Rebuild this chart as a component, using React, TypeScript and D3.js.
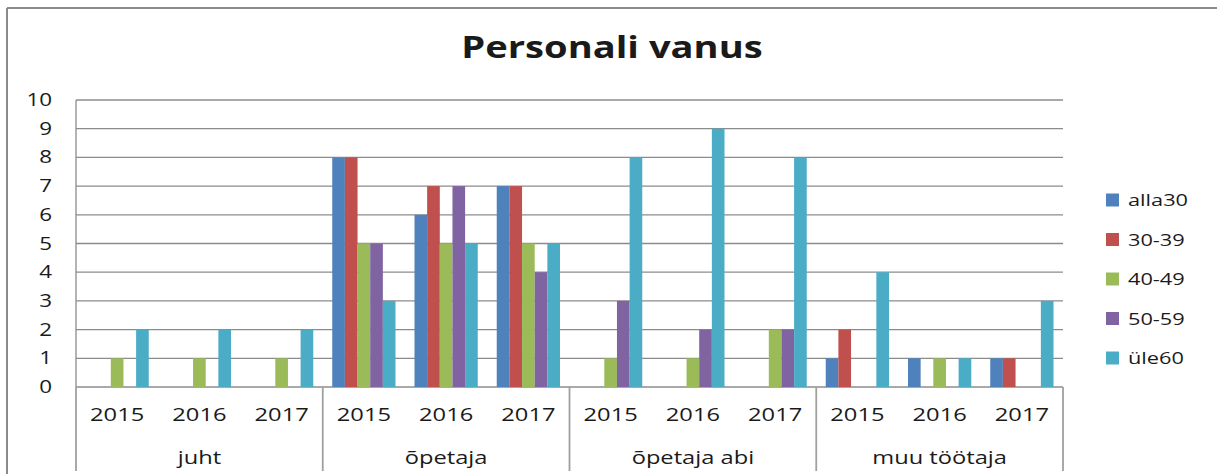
import React from "react";
import * as d3 from "d3";

// chart data
const groups = ["juht", "õpetaja", "õpetaja abi", "muu töötaja"];
const years = ["2015", "2016", "2017"];
const seriesNames = ["alla30", "30-39", "40-49", "50-59", "üle60"];
const alla30 = [0, 0, 0, 8, 6, 7, 0, 0, 0, 1, 1, 1];
const v30_39 = [0, 0, 0, 8, 7, 7, 0, 0, 0, 2, 0, 1];
const v40_49 = [1, 1, 1, 5, 5, 5, 1, 1, 2, 0, 1, 0];
const v50_59 = [0, 0, 0, 5, 7, 4, 3, 2, 2, 0, 0, 0];
const ule60 = [2, 2, 2, 3, 5, 5, 8, 9, 8, 4, 1, 3];
const yTicks = [0, 1, 2, 3, 4, 5, 6, 7, 8, 9, 10];
const colors = ["#4F81BD", "#C0504D", "#9BBB59", "#8064A2", "#4BACC6"];

const seriesValues = [alla30, v30_39, v40_49, v50_59, ule60];
const cats = groups.flatMap((g) => years.map((y) => g + "|" + y));

const W = 1217, H = 474;
const margin = { top: 100, left: 76, right: 1063, bottom: 387 };
const FONT = "'Open Sans', sans-serif";
const SX = 1.28; // text in the original is stretched horizontally

const Txt = ({ x, y, anchor = "middle", size = 18, weight = 400, sx = SX, children }: any) => (
  <text
    transform={`translate(${x},${y}) scale(${sx},1)`}
    textAnchor={anchor}
    fontFamily={FONT}
    fontSize={size}
    fontWeight={weight}
    fill="#1a1a1a"
  >
    {children}
  </text>
);

export default function App() {
  const x = d3.scaleBand().domain(cats).range([margin.left, margin.right]).padding(0);
  const xs = d3
    .scaleBand()
    .domain(seriesNames)
    .range([0, x.bandwidth()])
    .paddingInner(0)
    .paddingOuter(0.75);
  const y = d3.scaleLinear().domain([0, 10]).range([margin.bottom, margin.top]);
  const gx = d3.scaleBand().domain(groups).range([margin.left, margin.right]).padding(0);
  const legendY = d3.scaleLinear().domain([0, seriesNames.length - 1]).range([200, 358]);

  return (
    <svg width={W} height={H} style={{ position: "absolute", left: 0, top: 0, background: "#fff" }}>
      {/* chart border */}
      <line x1={7} x2={W} y1={8} y2={8} stroke="#8a8a8a" strokeWidth={2} />
      <line x1={7} x2={7} y1={8} y2={H} stroke="#8a8a8a" strokeWidth={2} />

      <Txt x={612} y={58} size={31} weight={700} sx={1.23}>Personali vanus</Txt>

      {/* gridlines + y labels */}
      {yTicks.map((t) => (
        <g key={t}>
          <line x1={margin.left} x2={margin.right} y1={y(t)} y2={y(t)} stroke="#8c8c8c" strokeWidth={1.3} />
          <Txt x={52} y={y(t) + 6} anchor="end" size={17.5}>{t}</Txt>
        </g>
      ))}
      <line x1={margin.left} x2={margin.left} y1={margin.top} y2={margin.bottom} stroke="#8c8c8c" strokeWidth={1.3} />

      {/* bars */}
      {seriesValues.map((vals, si) => (
        <g key={si} fill={colors[si]}>
          {vals.map((v, ci) =>
            v > 0 ? (
              <rect
                key={ci}
                x={(x(cats[ci]) as number) + (xs(seriesNames[si]) as number)}
                y={y(v)}
                width={xs.bandwidth()}
                height={y(0) - y(v)}
              />
            ) : null
          )}
        </g>
      ))}

      {/* multi-level category axis */}
      {groups.map((g) => (
        <line key={g} x1={gx(g)} x2={gx(g)} y1={margin.bottom} y2={471} stroke="#a0a0a0" strokeWidth={1.8} />
      ))}
      <line x1={margin.right} x2={margin.right} y1={margin.bottom} y2={471} stroke="#a0a0a0" strokeWidth={1.8} />
      {cats.map((c) => (
        <Txt key={c} x={(x(c) as number) + x.bandwidth() / 2} y={421} size={18.5}>
          {c.split("|")[1]}
        </Txt>
      ))}
      {groups.map((g) => (
        <Txt key={g} x={(gx(g) as number) + gx.bandwidth() / 2} y={464} size={18.5}>
          {g}
        </Txt>
      ))}

      {/* legend */}
      {seriesNames.map((s, i) => (
        <g key={s}>
          <rect x={1106} y={legendY(i) - 6.5} width={13} height={13} fill={colors[i]} />
          <Txt x={1128} y={legendY(i) + 6} anchor="start" size={17}>{s}</Txt>
        </g>
      ))}
    </svg>
  );
}
